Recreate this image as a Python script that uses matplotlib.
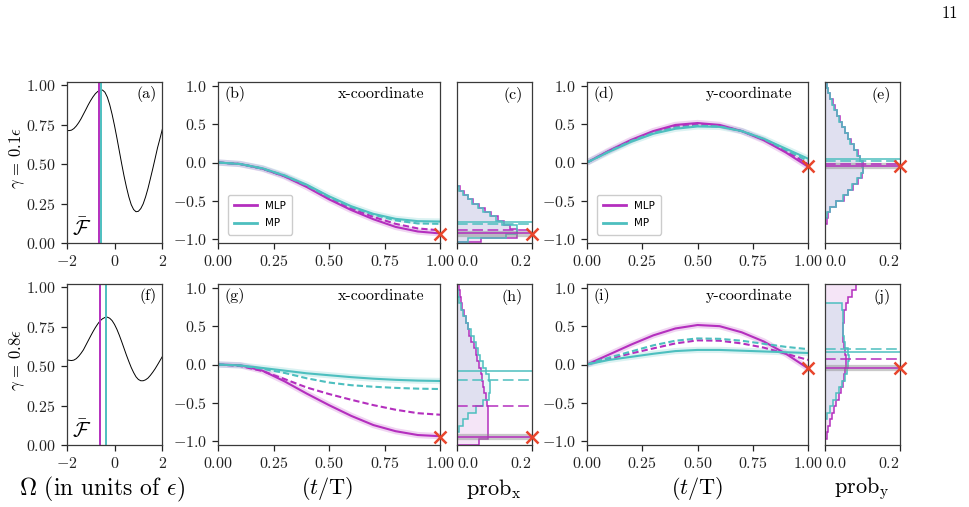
import numpy as np
import matplotlib
matplotlib.use('Agg')
import matplotlib.pyplot as plt
from matplotlib.lines import Line2D

plt.rcParams.update({
    'font.family': 'serif',
    'font.serif': ['cmr10'],
    'mathtext.fontset': 'cm',
    'axes.formatter.use_mathtext': True,
    'axes.unicode_minus': True,
})

MLP = '#b42fbe'
MP = '#4dbfbf'
XRED = '#e8452c'

# ---------------- data ----------------
omega = [-2.0, -1.9, -1.8, -1.7, -1.6, -1.5, -1.4, -1.3, -1.2, -1.1, -1.0,
         -0.9, -0.8, -0.7, -0.6, -0.5, -0.4, -0.3, -0.2, -0.1, 0.0,
         0.1, 0.2, 0.3, 0.4, 0.5, 0.6, 0.7, 0.8, 0.9, 1.0,
         1.1, 1.2, 1.3, 1.4, 1.5, 1.6, 1.7, 1.8, 1.9, 2.0]
fid_a = [0.713, 0.712, 0.715, 0.725, 0.741, 0.762, 0.787, 0.816, 0.845, 0.875, 0.902,
         0.926, 0.946, 0.960, 0.968, 0.969, 0.955, 0.924, 0.876, 0.815, 0.744,
         0.666, 0.584, 0.502, 0.424, 0.354, 0.292, 0.243, 0.212, 0.198, 0.201,
         0.218, 0.248, 0.292, 0.345, 0.407, 0.470, 0.536, 0.603, 0.660, 0.720]
fid_f = [0.540, 0.537, 0.535, 0.538, 0.547, 0.562, 0.581, 0.603, 0.632, 0.661, 0.690,
         0.718, 0.744, 0.767, 0.787, 0.800, 0.808, 0.810, 0.803, 0.788, 0.764,
         0.733, 0.696, 0.655, 0.612, 0.569, 0.529, 0.491, 0.459, 0.432, 0.415,
         0.407, 0.407, 0.413, 0.424, 0.441, 0.461, 0.483, 0.508, 0.534, 0.560]
omega_a = [-0.63, -0.565]   # MLP, MP
omega_f = [-0.60, -0.35]

t = [0.0, 0.1, 0.2, 0.3, 0.4, 0.5, 0.6, 0.7, 0.8, 0.9, 1.0]

b_mlp_solid = [0, -0.02, -0.08, -0.18, -0.32, -0.48, -0.62, -0.74, -0.84, -0.90, -0.925]
b_mlp_dash = [0, -0.02, -0.08, -0.18, -0.31, -0.465, -0.60, -0.71, -0.80, -0.86, -0.885]
b_mp_dash = [0, -0.02, -0.08, -0.17, -0.30, -0.45, -0.58, -0.68, -0.755, -0.795, -0.80]
b_mp_solid = [0, -0.02, -0.075, -0.17, -0.29, -0.44, -0.57, -0.67, -0.735, -0.765, -0.77]
target_x1 = -0.93

d_mlp_solid = [0, 0.155, 0.295, 0.41, 0.49, 0.515, 0.49, 0.41, 0.29, 0.13, -0.055]
d_mlp_dash = [0, 0.15, 0.285, 0.395, 0.47, 0.495, 0.48, 0.41, 0.30, 0.15, -0.02]
d_mp_dash = [0, 0.145, 0.28, 0.385, 0.455, 0.48, 0.47, 0.41, 0.305, 0.165, 0.02]
d_mp_solid = [0, 0.14, 0.27, 0.375, 0.44, 0.47, 0.465, 0.41, 0.31, 0.18, 0.05]
target_y1 = -0.05

g_mlp_solid = [0, -0.01, -0.08, -0.22, -0.38, -0.53, -0.67, -0.79, -0.87, -0.92, -0.935]
g_mlp_dash = [0, -0.02, -0.085, -0.19, -0.30, -0.385, -0.46, -0.53, -0.59, -0.635, -0.655]
g_mp_dash = [0, -0.015, -0.055, -0.11, -0.18, -0.235, -0.27, -0.29, -0.305, -0.315, -0.32]
g_mp_solid = [0, -0.012, -0.045, -0.08, -0.115, -0.14, -0.165, -0.185, -0.20, -0.21, -0.215]
target_x2 = -0.94

i_mlp_solid = [0, 0.13, 0.26, 0.38, 0.47, 0.515, 0.50, 0.42, 0.30, 0.14, -0.05]
i_mlp_dash = [0, 0.075, 0.145, 0.21, 0.275, 0.315, 0.31, 0.275, 0.22, 0.14, 0.06]
i_mp_dash = [0, 0.09, 0.17, 0.25, 0.31, 0.34, 0.335, 0.31, 0.27, 0.23, 0.20]
i_mp_solid = [0, 0.06, 0.10, 0.14, 0.175, 0.19, 0.19, 0.18, 0.17, 0.16, 0.15]
target_y2 = -0.05

# histograms (bottom bin first)
c_edges = np.linspace(-1.04, -0.312, 14)
c_mlp = [0.065, 0.16, 0.16, 0.14, 0.125, 0.11, 0.09, 0.075, 0.058, 0.042, 0.030, 0.018, 0.007]
c_mp = [0.03, 0.13, 0.16, 0.16, 0.12, 0.105, 0.088, 0.07, 0.055, 0.04, 0.028, 0.016, 0.006]

e_edges = np.linspace(-0.80, 1.05, 26)
e_mlp = [0.004, 0.008, 0.014, 0.03, 0.05, 0.062, 0.075, 0.088, 0.098, 0.102, 0.10, 0.093, 0.087,
         0.078, 0.068, 0.061, 0.054, 0.045, 0.039, 0.032, 0.026, 0.02, 0.014, 0.009, 0.004]
e_mp = [0.0, 0.005, 0.012, 0.028, 0.047, 0.06, 0.073, 0.086, 0.096, 0.10, 0.098, 0.092, 0.086,
        0.076, 0.066, 0.06, 0.052, 0.044, 0.038, 0.031, 0.025, 0.019, 0.013, 0.008, 0.004]

h_edges = np.linspace(-1.05, 1.05, 26)
h_mlp = [0.058, 0.083, 0.083, 0.083, 0.083, 0.082, 0.079, 0.076, 0.073, 0.07, 0.067, 0.063, 0.058,
         0.054, 0.05, 0.045, 0.038, 0.033, 0.028, 0.023, 0.018, 0.014, 0.01, 0.007, 0.004]
h_mp = [0.0, 0.0, 0.006, 0.015, 0.028, 0.05, 0.07, 0.085, 0.089, 0.088, 0.085, 0.078, 0.07,
        0.062, 0.056, 0.05, 0.044, 0.037, 0.03, 0.024, 0.016, 0.01, 0.005, 0.002, 0.0]

j_edges = np.linspace(-1.05, 1.05, 26)
j_mlp = [0.0, 0.004, 0.008, 0.013, 0.018, 0.024, 0.03, 0.036, 0.042, 0.047, 0.05, 0.053, 0.055,
         0.055, 0.052, 0.05, 0.049, 0.049, 0.049, 0.05, 0.051, 0.055, 0.062, 0.072, 0.082]
j_mp = [0.0, 0.0, 0.0, 0.0, 0.004, 0.012, 0.02, 0.028, 0.036, 0.044, 0.052, 0.058, 0.062,
        0.064, 0.06, 0.052, 0.05, 0.049, 0.048, 0.048, 0.047, 0.045, 0.0, 0.0, 0.0]

# horizontal markers: MLP solid, MLP dashed, MP solid, MP dashed
c_hlines = [-0.92, -0.885, -0.77, -0.80]
e_hlines = [-0.04, -0.02, 0.05, 0.02]
h_hlines = [-0.94, -0.535, -0.085, -0.20]
j_hlines = [-0.04, 0.068, 0.167, 0.20]

# ---------------- figure ----------------
W, H = 969, 507
fig = plt.figure(figsize=(W / 100, H / 100), dpi=100)

TICK_FS = 11.5
TXT_FS = 11.5
LAB_FS = 16


def add(l, t_, r, b):
    return fig.add_axes([l / W, (H - b) / H, (r - l) / W, (b - t_) / H])


def style(ax):
    for s in ['top', 'right', 'left', 'bottom']:
        ax.spines[s].set_color('#3a3a3a')
        ax.spines[s].set_linewidth(0.9)
    ax.tick_params(direction='out', length=4, width=0.9, labelsize=TICK_FS,
                   colors='#222222', top=False, right=False, pad=4)


def fid_panel(ax, fid, om, letter):
    style(ax)
    ax.plot(omega, fid, color='black', lw=0.7)
    ax.axvline(om[0], color=MLP, lw=1.4)
    ax.axvline(om[1], color=MP, lw=1.4)
    ax.set_xlim(-2, 2)
    ax.set_ylim(0, 1.02)
    ax.set_xticks([-2, 0, 2])
    ax.set_yticks([0, 0.25, 0.5, 0.75, 1.0])
    ax.text(0.94, 0.925, letter, transform=ax.transAxes, ha='right', va='center', fontsize=TXT_FS)
    ax.text(0.16, 0.085, r'$\bar{\mathcal{F}}$', transform=ax.transAxes, ha='center',
            va='center', fontsize=15)


def traj_panel(ax, ms, md, ps, pd, target, letter, title, legend=False):
    style(ax)
    ax.plot(t, ms, color=MLP, lw=4.5, alpha=0.2, solid_capstyle='butt')
    ax.plot(t, ps, color=MP, lw=4.5, alpha=0.2, solid_capstyle='butt')
    ax.plot(t, ms, color=MLP, lw=1.5)
    ax.plot(t, md, color=MLP, lw=1.5, ls=(0, (3, 1.5)))
    ax.plot(t, ps, color=MP, lw=1.5)
    ax.plot(t, pd, color=MP, lw=1.5, ls=(0, (3, 1.5)))
    ax.plot([1.0], [target], marker='x', color=XRED, ms=8, mew=1.8, ls='none',
            clip_on=False, zorder=10)
    ax.set_xlim(0, 1)
    ax.set_ylim(-1.05, 1.05)
    ax.set_xticks([0, 0.25, 0.5, 0.75, 1.0])
    ax.set_yticks([-1.0, -0.5, 0.0, 0.5, 1.0])
    ax.text(0.03, 0.925, letter, transform=ax.transAxes, ha='left', va='center', fontsize=TXT_FS)
    ax.text(0.93, 0.925, title, transform=ax.transAxes, ha='right', va='center', fontsize=TXT_FS)
    if legend:
        handles = [Line2D([], [], color=MLP, lw=2), Line2D([], [], color=MP, lw=2)]
        ax.legend(handles, ['MLP', 'MP'], loc='lower left', bbox_to_anchor=(0.02, 0.02),
                  prop={'family': 'DejaVu Sans', 'size': 7.5}, frameon=True,
                  edgecolor='#cccccc', framealpha=1, handlelength=2.2,
                  borderpad=0.6, labelspacing=0.7)


def hist_panel(ax, edges, hm, hp, hl, target, letter):
    style(ax)
    ax.stairs(hm, edges, orientation='horizontal', fill=True, color=MLP, alpha=0.12, lw=0)
    ax.stairs(hp, edges, orientation='horizontal', fill=True, color=MP, alpha=0.12, lw=0)
    ax.stairs(hm, edges, orientation='horizontal', color=MLP, lw=1.1)
    ax.stairs(hp, edges, orientation='horizontal', color=MP, lw=1.1)
    ax.axhline(target, color='#888888', lw=4.5, alpha=0.45)
    ax.axhline(hl[0], color=MLP, lw=1.1)
    ax.axhline(hl[1], color=MLP, lw=1.1, ls=(0, (7, 3)))
    ax.axhline(hl[2], color=MP, lw=1.1)
    ax.axhline(hl[3], color=MP, lw=1.1, ls=(0, (7, 3)))
    ax.plot([0.2], [target], marker='x', color=XRED, ms=8, mew=1.8, ls='none',
            clip_on=False, zorder=10)
    ax.set_xlim(0, 0.2)
    ax.set_ylim(-1.05, 1.05)
    ax.set_xticks([0.0, 0.2])
    ax.set_yticks([])
    ticks = ax.xaxis.get_major_ticks()
    ticks[0].label1.set_horizontalalignment('left')
    ticks[1].label1.set_horizontalalignment('right')
    ax.text(0.88, 0.92, letter, transform=ax.transAxes, ha='right', va='center', fontsize=TXT_FS)


cols = [(66.7, 162.3), (218, 440), (457, 532), (587, 808), (825, 900)]
rows = [(82, 243), (284, 445)]

axa = add(cols[0][0], rows[0][0], cols[0][1], rows[0][1])
axb = add(cols[1][0], rows[0][0], cols[1][1], rows[0][1])
axc = add(cols[2][0], rows[0][0], cols[2][1], rows[0][1])
axd = add(cols[3][0], rows[0][0], cols[3][1], rows[0][1])
axe = add(cols[4][0], rows[0][0], cols[4][1], rows[0][1])
axf = add(cols[0][0], rows[1][0], cols[0][1], rows[1][1])
axg = add(cols[1][0], rows[1][0], cols[1][1], rows[1][1])
axh = add(cols[2][0], rows[1][0], cols[2][1], rows[1][1])
axi = add(cols[3][0], rows[1][0], cols[3][1], rows[1][1])
axj = add(cols[4][0], rows[1][0], cols[4][1], rows[1][1])

fid_panel(axa, fid_a, omega_a, '(a)')
fid_panel(axf, fid_f, omega_f, '(f)')
traj_panel(axb, b_mlp_solid, b_mlp_dash, b_mp_solid, b_mp_dash, target_x1, '(b)', 'x-coordinate', True)
traj_panel(axd, d_mlp_solid, d_mlp_dash, d_mp_solid, d_mp_dash, target_y1, '(d)', 'y-coordinate', True)
traj_panel(axg, g_mlp_solid, g_mlp_dash, g_mp_solid, g_mp_dash, target_x2, '(g)', 'x-coordinate')
traj_panel(axi, i_mlp_solid, i_mlp_dash, i_mp_solid, i_mp_dash, target_y2, '(i)', 'y-coordinate')
hist_panel(axc, c_edges, c_mlp, c_mp, c_hlines, target_x1, '(c)')
hist_panel(axe, e_edges, e_mlp, e_mp, e_hlines, target_y1, '(e)')
hist_panel(axh, h_edges, h_mlp, h_mp, h_hlines, target_x2, '(h)')
hist_panel(axj, j_edges, j_mlp, j_mp, j_hlines, target_y2, '(j)')

# labels
fig.text(17 / W, 1 - 158 / H, r'$\gamma\,=\,0.1\epsilon$', rotation=90, ha='center', va='center', fontsize=12)
fig.text(17 / W, 1 - 360 / H, r'$\gamma\,=\,0.8\epsilon$', rotation=90, ha='center', va='center', fontsize=12)
fig.text(102 / W, 1 - 489 / H, r'$\Omega$ (in units of $\epsilon$)', ha='center', va='center', fontsize=17)
fig.text(327 / W, 1 - 489 / H, r'$(t/\mathrm{T})$', ha='center', va='center', fontsize=LAB_FS)
fig.text(697 / W, 1 - 489 / H, r'$(t/\mathrm{T})$', ha='center', va='center', fontsize=LAB_FS)
fig.text(494 / W, 1 - 489 / H, r'$\mathrm{prob}_\mathrm{x}$', ha='center', va='center', fontsize=LAB_FS)
fig.text(862 / W, 1 - 489 / H, r'$\mathrm{prob}_\mathrm{y}$', ha='center', va='center', fontsize=LAB_FS)
fig.text(950 / W, 1 - 13 / H, '11', ha='center', va='center', fontsize=12)

fig.savefig('out.png', dpi=100)
